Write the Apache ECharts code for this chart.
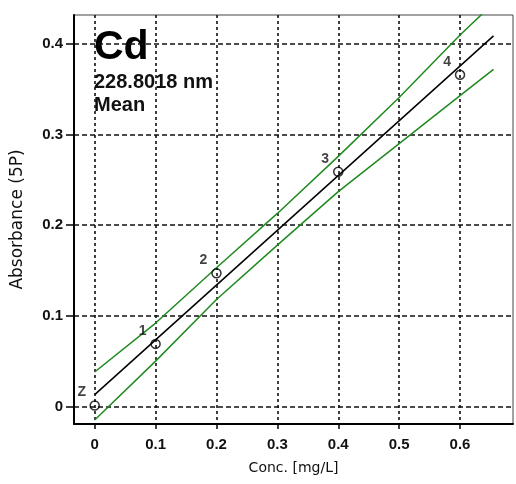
<!DOCTYPE html>
<html>
<head>
<meta charset="utf-8">
<script src="https://cdn.jsdelivr.net/npm/echarts@6/dist/echarts.min.js"></script>
<style>
html,body{margin:0;padding:0;background:#fff;}
#chart{width:516px;height:484px;}
</style>
</head>
<body>
<div id="chart"></div>
<script>
// ---- data ----
const concX = [0, 0.1, 0.2, 0.4, 0.6];
const absY = [0.001, 0.069, 0.147, 0.259, 0.366];
const pointNames = ['Z', '1', '2', '3', '4'];
const fitX = [0, 0.655];
const fitY = [0.013, 0.409];
const bandX = [0, 0.1, 0.2, 0.3, 0.4, 0.5, 0.6, 0.655];
const upperY = [0.038, 0.092, 0.153, 0.213, 0.276, 0.341, 0.410, 0.445];
const lowerY = [-0.015, 0.050, 0.118, 0.178, 0.237, 0.290, 0.343, 0.372];
const xTicks = [0, 0.1, 0.2, 0.3, 0.4, 0.5, 0.6];
const yTicks = [0, 0.1, 0.2, 0.3, 0.4];
const titleText = 'Cd';
const subText1 = '228.8018 nm';
const subText2 = 'Mean';
const xName = 'Conc. [mg/L]';
const yName = 'Absorbance (5P)';

const zip = (a, b) => a.map((v, i) => [v, b[i]]);
const tickFont = {fontFamily: 'Liberation Sans, Arial', fontWeight: 'bold', fontSize: 15, color: '#111'};

const chart = echarts.init(document.getElementById('chart'), null, {renderer: 'canvas'});
chart.setOption({
  animation: false,
  backgroundColor: '#fff',
  grid: {left: 74, right: 3, top: 15, bottom: 60, show: true, borderColor: '#444', borderWidth: 1},
  xAxis: {
    type: 'value', min: -0.034, max: 0.687,
    name: xName, nameLocation: 'middle', nameGap: 37,
    nameTextStyle: {fontFamily: 'DejaVu Sans', fontSize: 14, color: '#111'},
    axisLine: {show: true, onZero: false, lineStyle: {color: '#000', width: 2}},
    axisTick: {show: true, length: 5, customValues: xTicks, lineStyle: {color: '#000', width: 1.5}},
    axisLabel: Object.assign({margin: 13, customValues: xTicks, formatter: v => String(v)}, tickFont),
    splitLine: {show: true, lineStyle: {color: '#111', width: 1.6, type: [3, 3]}}
  },
  yAxis: {
    type: 'value', min: -0.0194, max: 0.432,
    name: yName, nameLocation: 'middle', nameGap: 48,
    nameTextStyle: {fontFamily: 'DejaVu Sans', fontSize: 17, color: '#111'},
    axisLine: {show: true, onZero: false, lineStyle: {color: '#000', width: 2}},
    axisTick: {show: true, length: 8, customValues: yTicks, lineStyle: {color: '#000', width: 1.5}},
    axisLabel: Object.assign({margin: 11, customValues: yTicks, padding: [0, 0, 10, 0], formatter: v => String(v)}, tickFont),
    splitLine: {show: true, lineStyle: {color: '#111', width: 1.6, type: [5, 3]}}
  },
  graphic: [
    {type: 'text', left: 94, top: 27, style: {text: titleText, font: 'bold 41px "Liberation Sans", Arial', fill: '#000'}},
    {type: 'text', left: 94, top: 72, style: {text: subText1, font: 'bold 20px "Liberation Sans", Arial', fill: '#111'}},
    {type: 'text', left: 94, top: 95, style: {text: subText2, font: 'bold 20px "Liberation Sans", Arial', fill: '#111'}}
  ],
  series: [
    {type: 'line', data: zip(bandX, upperY), symbol: 'none', clip: true,
     lineStyle: {color: '#1f8a1f', width: 1.5}, z: 3},
    {type: 'line', data: zip(bandX, lowerY), symbol: 'none', clip: true,
     lineStyle: {color: '#1f8a1f', width: 1.5}, z: 3},
    {type: 'line', data: zip(fitX, fitY), symbol: 'none', clip: true,
     lineStyle: {color: '#000', width: 1.5}, z: 4},
    {type: 'scatter', data: zip(concX, absY), symbol: 'circle', symbolSize: 9, z: 5,
     itemStyle: {color: 'rgba(255,255,255,0)', borderColor: '#000', borderWidth: 1.5},
     label: {show: true, position: 'inside', offset: [-13, -13],
       formatter: p => pointNames[p.dataIndex],
       fontFamily: 'Liberation Sans, Arial', fontWeight: 'bold', fontSize: 14, color: '#111'}}
  ]
});
</script>
</body>
</html>
